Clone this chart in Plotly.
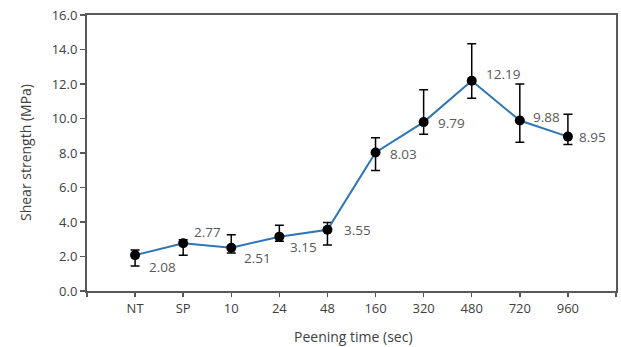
import plotly.graph_objects as go

categories = ["NT", "SP", "10", "24", "48", "160", "320", "480", "720", "960"]
shear_strength = [2.08, 2.77, 2.51, 3.15, 3.55, 8.03, 9.79, 12.19, 9.88, 8.95]
error_plus = [0.30, 0.20, 0.75, 0.66, 0.42, 0.86, 1.88, 2.15, 2.12, 1.29]
error_minus = [0.63, 0.70, 0.30, 0.26, 0.88, 1.04, 0.71, 1.02, 1.25, 0.45]
y_ticks = [0, 2, 4, 6, 8, 10, 12, 14, 16]

# label offsets in px (dx right, dy down)
label_dx = [27, 24, 26, 24, 30, 28, 28, 31, 27, 25]
label_dy = [12, -11, 10, 10, 0, 2, 1, -7, -4, 0]

FONT = "Open Sans"
W, H = 621, 347
ML, MR, MT, MB = 87, 5, 15, 56
PW, PH = W - ML - MR, H - MT - MB
x_idx = list(range(len(categories)))

fig = go.Figure()
fig.add_trace(go.Scatter(
    x=x_idx, y=shear_strength,
    mode="lines+markers",
    line=dict(color="#2E75B6", width=2),
    marker=dict(color="black", size=10),
    error_y=dict(type="data", symmetric=False, array=error_plus, arrayminus=error_minus,
                 color="black", thickness=1.5, width=4.5),
    showlegend=False,
    hoverinfo="skip",
))

for i, v in enumerate(shear_strength):
    fig.add_annotation(
        x=x_idx[i], y=v, text=f"{v:.2f}", showarrow=False,
        xshift=label_dx[i], yshift=-label_dy[i],
        font=dict(family=FONT, size=13.5, color="#595959"),
    )

# axis titles
fig.add_annotation(
    xref="paper", yref="paper", x=(25 - ML) / PW, y=0.5, text="Shear strength (MPa)",
    textangle=-90, showarrow=False, xanchor="center", yanchor="middle",
    font=dict(family=FONT, size=14, color="#404040"),
)
fig.add_annotation(
    xref="paper", yref="paper", x=(353 - ML) / PW, y=-(336 - (MT + PH)) / PH,
    text="Peening time (sec)",
    showarrow=False, xanchor="center", yanchor="middle",
    font=dict(family=FONT, size=14, color="#404040"),
)

fig.update_layout(
    width=W, height=H,
    margin=dict(l=ML, r=MR, t=MT, b=MB, autoexpand=False),
    paper_bgcolor="white", plot_bgcolor="white",
    font=dict(family=FONT, color="#404040"),
)
fig.update_xaxes(
    range=[-1, len(categories)],
    tickmode="array",
    tickvals=list(range(-1, len(categories) + 1)),
    ticktext=[""] + categories + [""],
    ticks="outside", ticklen=4, tickwidth=1.5, tickcolor="#595959",
    showline=True, linecolor="#595959", linewidth=2, mirror=True,
    showgrid=False, zeroline=False, automargin=False,
    tickfont=dict(family=FONT, size=13, color="#404040"),
)
fig.update_yaxes(
    range=[0, 16],
    tickmode="array", tickvals=y_ticks, ticktext=[f"{t:.1f}" for t in y_ticks],
    ticks="outside", ticklen=5, tickwidth=1.5, tickcolor="#595959",
    showline=True, linecolor="#595959", linewidth=2, mirror=True,
    showgrid=False, zeroline=False, automargin=False,
    tickfont=dict(family=FONT, size=13, color="#404040"),
)

fig.write_html(
    "out.html",
    config={"displayModeBar": False, "staticPlot": True},
    post_script="document.body.style.margin='0';document.body.style.overflow='hidden';",
)
